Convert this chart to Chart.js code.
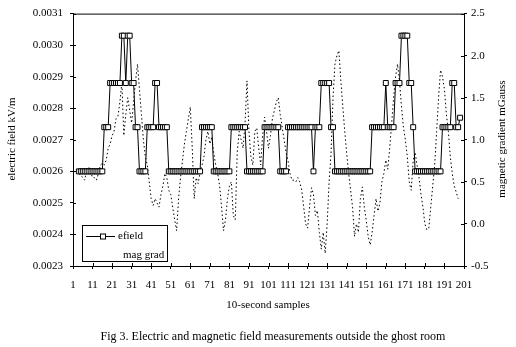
<!DOCTYPE html>
<html>
<head>
<meta charset="utf-8">
<script src="https://cdn.jsdelivr.net/npm/chart.js@4/dist/chart.umd.min.js"></script>
<style>
  body { margin: 0; background: #fff; }
</style>
</head>
<body>
<canvas id="chart_fields" width="516" height="347"></canvas>
<script>

// sample number of the first logged value
var first_sample = 4

var x_ticks = [1, 11, 21, 31, 41, 51, 61, 71, 81, 91, 101, 111, 121, 131, 141, 151, 161, 171, 181, 191, 201]
var efield_ticks = [0.0023, 0.0024, 0.0025, 0.0026, 0.0027, 0.0028, 0.0029, 0.0030, 0.0031]
var mag_ticks = [-0.5, 0, 0.5, 1, 1.5, 2, 2.5]

// electric field, kV/m (samples 4..199)
var efield = [
  0.0026, 0.0026, 0.0026, 0.0026, 0.0026, 0.0026, 0.0026, 0.0026, 0.0026, 0.0026,
  0.0026, 0.0026, 0.0026, 0.00274, 0.00274, 0.00274, 0.00288, 0.00288, 0.00288, 0.00288,
  0.00288, 0.00288, 0.00303, 0.00303, 0.00288, 0.00303, 0.00303, 0.00288, 0.00288, 0.00274,
  0.00274, 0.0026, 0.0026, 0.0026, 0.0026, 0.00274, 0.00274, 0.00274, 0.00274, 0.00288,
  0.00288, 0.00274, 0.00274, 0.00274, 0.00274, 0.00274, 0.0026, 0.0026, 0.0026, 0.0026,
  0.0026, 0.0026, 0.0026, 0.0026, 0.0026, 0.0026, 0.0026, 0.0026, 0.0026, 0.0026,
  0.0026, 0.0026, 0.0026, 0.00274, 0.00274, 0.00274, 0.00274, 0.00274, 0.00274, 0.0026,
  0.0026, 0.0026, 0.0026, 0.0026, 0.0026, 0.0026, 0.0026, 0.0026, 0.00274, 0.00274,
  0.00274, 0.00274, 0.00274, 0.00274, 0.00274, 0.00274, 0.0026, 0.0026, 0.0026, 0.0026,
  0.0026, 0.0026, 0.0026, 0.0026, 0.0026, 0.00274, 0.00274, 0.00274, 0.00274, 0.00274,
  0.00274, 0.00274, 0.00274, 0.0026, 0.0026, 0.0026, 0.0026, 0.00274, 0.00274, 0.00274,
  0.00274, 0.00274, 0.00274, 0.00274, 0.00274, 0.00274, 0.00274, 0.00274, 0.00274, 0.00274,
  0.0026, 0.00274, 0.00274, 0.00274, 0.00288, 0.00288, 0.00288, 0.00288, 0.00288, 0.00274,
  0.00274, 0.0026, 0.0026, 0.0026, 0.0026, 0.0026, 0.0026, 0.0026, 0.0026, 0.0026,
  0.0026, 0.0026, 0.0026, 0.0026, 0.0026, 0.0026, 0.0026, 0.0026, 0.0026, 0.0026,
  0.00274, 0.00274, 0.00274, 0.00274, 0.00274, 0.00274, 0.00274, 0.00288, 0.00274, 0.00274,
  0.00274, 0.00274, 0.00288, 0.00288, 0.00288, 0.00303, 0.00303, 0.00303, 0.00303, 0.00288,
  0.00288, 0.00274, 0.0026, 0.0026, 0.0026, 0.0026, 0.0026, 0.0026, 0.0026, 0.0026,
  0.0026, 0.0026, 0.0026, 0.0026, 0.0026, 0.0026, 0.00274, 0.00274, 0.00274, 0.00274,
  0.00274, 0.00288, 0.00288, 0.00274, 0.00274, 0.00277
]

// magnetic gradient, mGauss (samples 4..198)
var mag_grad = [
  0.6, 0.58, 0.55, 0.52, 0.65, 0.68, 0.62, 0.55, 0.55, 0.52,
  0.6, 0.7, 0.72, 0.7, 0.76, 0.9, 0.95, 1.05, 1.1, 1.25,
  1.28, 1.45, 1.68, 1.05, 1.3, 1.5, 1.35, 1.2, 1.45, 1.7,
  1.9, 1.6, 1.3, 1.0, 0.8, 0.7, 0.5, 0.3, 0.22, 0.3,
  0.25, 0.2, 0.35, 0.45, 0.6, 0.55, 0.4, 0.35, 0.2, 0.05,
  -0.08, 0.3, 0.55, 0.75, 0.95, 1.1, 1.25, 1.39, 0.9, 0.3,
  0.55, 0.48, 0.62, 0.7, 0.8, 1.0, 1.1, 0.95, 1.03, 0.84,
  0.7, 0.6, 0.45, 0.2, -0.08, 0.05, 0.3, 0.45, 0.5, 0.1,
  0.05, 0.85, 1.1, 1.0, 0.9, 1.2, 1.7, 1.1, 0.8, 0.7,
  1.1, 1.14, 0.9, 0.7, 1.05, 1.27, 1.1, 0.9, 1.05, 1.25,
  1.35, 1.45, 1.5, 1.3, 1.15, 1.0, 0.85, 0.75, 0.6, 0.52,
  0.52, 0.5, 0.55, 0.5, 0.4, 0.2, 0.0, -0.05, 0.2, 0.43,
  0.35, 0.1, 0.16, -0.1, -0.3, -0.1, -0.35, 0.0, 0.5, 0.84,
  1.5, 1.9, 2.0, 2.06, 1.7, 1.4, 1.1, 0.84, 0.6, 0.4,
  0.2, -0.15, 0.0, -0.1, 0.3, 0.44, 0.2, 0.04, -0.15, -0.25,
  -0.1, 0.1, 0.3, 0.15, 0.25, 0.5, 0.6, 0.76, 0.65, 0.9,
  1.2, 1.5, 1.75, 1.9, 1.7, 1.4, 1.15, 1.0, 0.8, 0.5,
  0.4, 0.75, 0.85, 0.7, 0.55, 0.35, 0.2, 0.0, -0.07, -0.05,
  0.2, 0.45, 0.7, 1.1, 1.5, 1.83, 1.75, 1.6, 1.3, 1.1,
  0.8, 0.6, 0.45, 0.38, 0.3
]

var font_family = '"Liberation Serif", "Times New Roman", serif'

function toPoints(values) {
  return values.map((v, i) => ({ x: first_sample + i, y: v }))
}

function fixedTicks(list) {
  return function (scale) {
    scale.ticks = list.map(v => ({ value: v }))
  }
}

// axis titles, caption, inner tick marks, frame top and the boxed legend
var decorations = {
  id: 'decorations',
  afterDraw(chart) {
    let ctx = chart.ctx
    let area = chart.chartArea
    ctx.save()
    ctx.strokeStyle = '#000'
    ctx.lineWidth = 1

    // top of frame
    ctx.beginPath()
    ctx.moveTo(area.left, area.top + 0.5)
    ctx.lineTo(area.right, area.top + 0.5)
    ctx.stroke()

    // ticks cross the axis lines
    ctx.beginPath()
    for (let t of chart.scales.x.ticks) {
      let px = Math.round(chart.scales.x.getPixelForValue(t.value)) + 0.5
      ctx.moveTo(px, area.bottom - 3)
      ctx.lineTo(px, area.bottom)
    }
    for (let t of chart.scales.y.ticks) {
      let py = Math.round(chart.scales.y.getPixelForValue(t.value)) + 0.5
      ctx.moveTo(area.left, py)
      ctx.lineTo(area.left + 3, py)
    }
    for (let t of chart.scales.y2.ticks) {
      let py = Math.round(chart.scales.y2.getPixelForValue(t.value)) + 0.5
      ctx.moveTo(area.right - 3, py)
      ctx.lineTo(area.right, py)
    }
    ctx.stroke()

    ctx.fillStyle = '#000'
    ctx.textAlign = 'center'
    ctx.textBaseline = 'middle'
    ctx.font = '11px ' + font_family

    ctx.fillText('10-second samples', 268, 305)

    ctx.save()
    ctx.translate(12, 139)
    ctx.rotate(-Math.PI / 2)
    ctx.fillText('electric field kV/m', 0, 0)
    ctx.restore()

    ctx.save()
    ctx.translate(502, 139)
    ctx.rotate(-Math.PI / 2)
    ctx.fillText('magnetic gradient mGauss', 0, 0)
    ctx.restore()

    ctx.font = '12px ' + font_family
    ctx.fillText('Fig 3. Electric and magnetic field measurements outside the ghost room', 273, 337)

    // legend box
    ctx.fillStyle = '#fff'
    ctx.fillRect(82.5, 225.5, 85, 36)
    ctx.strokeRect(82.5, 225.5, 85, 36)
    ctx.beginPath()
    ctx.moveTo(86, 236.5)
    ctx.lineTo(115, 236.5)
    ctx.stroke()
    ctx.fillRect(100.5, 234, 5, 5)
    ctx.strokeRect(100.5, 234, 5, 5)
    ctx.fillStyle = '#000'
    ctx.textAlign = 'left'
    ctx.font = '11px ' + font_family
    ctx.fillText('efield', 118, 236)
    ctx.fillText('mag grad', 123, 255)

    ctx.restore()
  }
}

var ctx = document.getElementById('chart_fields').getContext('2d')

var chart = new Chart(ctx, {
  type: 'line',
  data: {
    datasets: [{
      label: 'efield',
      data: toPoints(efield),
      yAxisID: 'y',
      borderColor: '#000',
      borderWidth: 1,
      pointStyle: 'rect',
      pointRadius: 3.5,
      pointBackgroundColor: '#fff',
      pointBorderColor: '#000',
      pointBorderWidth: 1,
      tension: 0,
      order: 0
    }, {
      label: 'mag grad',
      data: toPoints(mag_grad),
      yAxisID: 'y2',
      borderColor: '#000',
      borderWidth: 1,
      borderDash: [1.5, 2.5],
      pointRadius: 0,
      tension: 0,
      order: 1
    }]
  },
  options: {
    responsive: false,
    animation: false,
    devicePixelRatio: 1,
    layout: { padding: { top: 12, left: 0, right: 0, bottom: 0 } },
    plugins: {
      legend: { display: false },
      tooltip: { enabled: false }
    },
    scales: {
      x: {
        type: 'linear',
        min: 1,
        max: 201,
        afterBuildTicks: fixedTicks(x_ticks),
        afterFit: s => { s.height = 81 },
        grid: { drawOnChartArea: false, tickLength: 3, color: '#000' },
        border: { color: '#000' },
        ticks: {
          color: '#000',
          font: { family: font_family, size: 11 },
          maxRotation: 0,
          autoSkip: false,
          padding: 10,
          callback: v => String(v)
        }
      },
      y: {
        position: 'left',
        min: 0.0023,
        max: 0.0031,
        afterBuildTicks: fixedTicks(efield_ticks),
        afterFit: s => { s.width = 73 },
        grid: { drawOnChartArea: false, tickLength: 3, color: '#000' },
        border: { color: '#000' },
        ticks: {
          color: '#000',
          font: { family: font_family, size: 11 },
          padding: 7,
          callback: v => v.toFixed(4)
        }
      },
      y2: {
        position: 'right',
        min: -0.5,
        max: 2.5,
        afterBuildTicks: fixedTicks(mag_ticks),
        afterFit: s => { s.width = 52 },
        grid: { drawOnChartArea: false, tickLength: 3, color: '#000' },
        border: { color: '#000' },
        ticks: {
          color: '#000',
          font: { family: font_family, size: 11 },
          padding: 4,
          callback: v => v.toFixed(1)
        }
      }
    }
  },
  plugins: [decorations]
})
</script>
</body>
</html>
